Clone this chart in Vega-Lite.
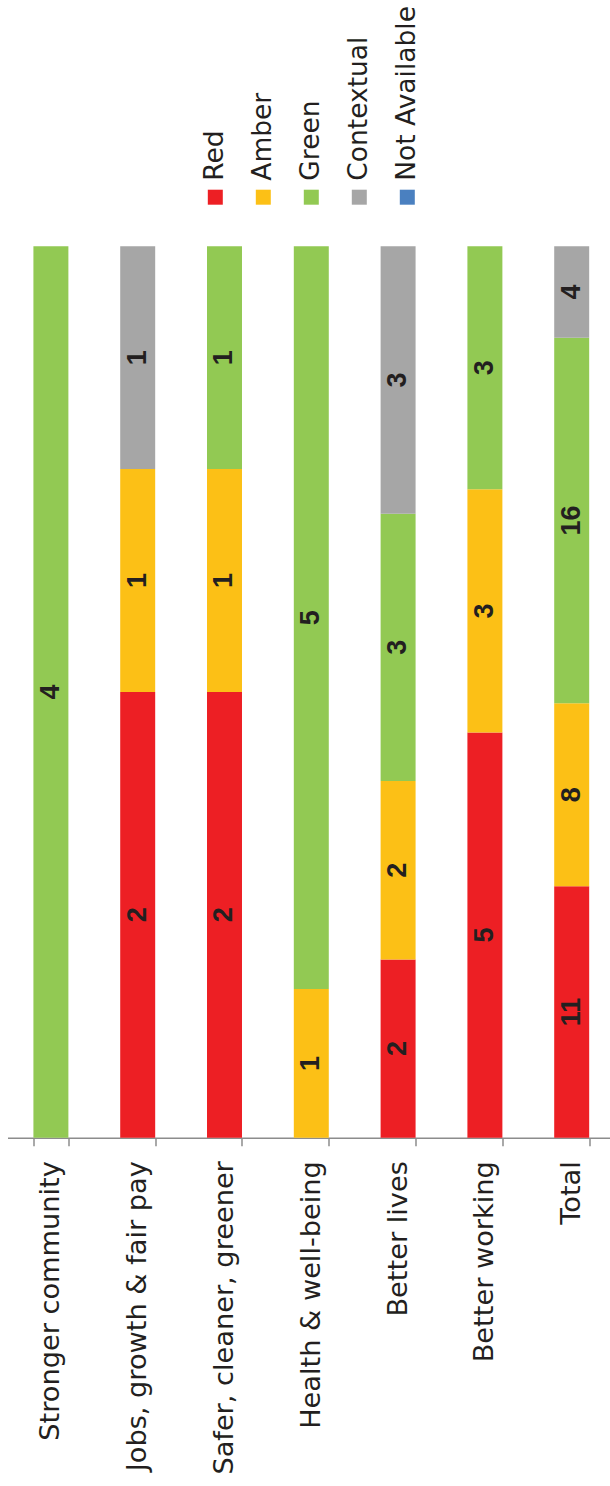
{
  "$schema": "https://vega.github.io/schema/vega-lite/v6.json",
  "background": "white",
  "padding": {"left": -6.7, "top": 5.7, "right": 0, "bottom": 0},
  "config": {"view": {"stroke": null}, "font": "DejaVu Sans"},
  "datasets": {
    "scores": [
      {"theme": "Stronger community", "status": "Green", "rank": 3, "count": 4},
      {"theme": "Jobs, growth & fair pay", "status": "Red", "rank": 1, "count": 2},
      {"theme": "Jobs, growth & fair pay", "status": "Amber", "rank": 2, "count": 1},
      {"theme": "Jobs, growth & fair pay", "status": "Contextual", "rank": 4, "count": 1},
      {"theme": "Safer, cleaner, greener", "status": "Red", "rank": 1, "count": 2},
      {"theme": "Safer, cleaner, greener", "status": "Amber", "rank": 2, "count": 1},
      {"theme": "Safer, cleaner, greener", "status": "Green", "rank": 3, "count": 1},
      {"theme": "Health & well-being", "status": "Amber", "rank": 2, "count": 1},
      {"theme": "Health & well-being", "status": "Green", "rank": 3, "count": 5},
      {"theme": "Better lives", "status": "Red", "rank": 1, "count": 2},
      {"theme": "Better lives", "status": "Amber", "rank": 2, "count": 2},
      {"theme": "Better lives", "status": "Green", "rank": 3, "count": 3},
      {"theme": "Better lives", "status": "Contextual", "rank": 4, "count": 3},
      {"theme": "Better working", "status": "Red", "rank": 1, "count": 5},
      {"theme": "Better working", "status": "Amber", "rank": 2, "count": 3},
      {"theme": "Better working", "status": "Green", "rank": 3, "count": 3},
      {"theme": "Total", "status": "Red", "rank": 1, "count": 11},
      {"theme": "Total", "status": "Amber", "rank": 2, "count": 8},
      {"theme": "Total", "status": "Green", "rank": 3, "count": 16},
      {"theme": "Total", "status": "Contextual", "rank": 4, "count": 4}
    ],
    "statuses": [
      {"status": "Red"},
      {"status": "Amber"},
      {"status": "Green"},
      {"status": "Contextual"},
      {"status": "Not Available"}
    ]
  },
  "spacing": 41.5,
  "center": true,
  "bounds": "flush",
  "resolve": {"scale": {"color": "shared"}},
  "vconcat": [
    {
      "width": 240,
      "height": 15,
      "data": {"name": "statuses"},
      "encoding": {
        "x": {
          "field": "status",
          "type": "nominal",
          "sort": null,
          "axis": null,
          "scale": {"padding": 0.5}
        },
        "color": {
          "field": "status",
          "type": "nominal",
          "legend": null,
          "scale": {
            "domain": ["Red", "Amber", "Green", "Contextual", "Not Available"],
            "range": ["#ed1f24", "#fcc016", "#92c953", "#a6a6a6", "#4a80c0"]
          }
        }
      },
      "layer": [
        {"mark": {"type": "point", "shape": "square", "size": 225, "filled": true, "opacity": 1, "strokeWidth": 0}},
        {
          "mark": {"type": "text", "angle": 270, "align": "left", "baseline": "middle", "dx": 16.5, "fontSize": 26.5, "font": "DejaVu Sans"},
          "encoding": {"text": {"field": "status"}, "color": {"value": "#231f20"}}
        }
      ]
    },
    {
      "width": 607.6,
      "height": 891.5,
      "data": {"name": "scores"},
      "title": {
        "text": "Page 135",
        "orient": "bottom",
        "anchor": "middle",
        "font": "Liberation Sans",
        "fontSize": 37,
        "fontWeight": "normal",
        "color": "#000000",
        "dx": 178.5,
        "offset": 9
      },
      "encoding": {
        "x": {
          "field": "theme",
          "type": "nominal",
          "sort": null,
          "title": null,
          "scale": {"paddingInner": 0.597, "paddingOuter": 0.2985},
          "axis": {
            "labelAngle": 270,
            "labelFont": "DejaVu Sans",
            "labelFontSize": 27.2,
            "labelColor": "#231f20",
            "labelLimit": 500,
            "labelPadding": 15,
            "tickBand": "extent",
            "tickSize": 8,
            "tickWidth": 1.5,
            "tickColor": "#8c8c8c",
            "domainColor": "#8c8c8c",
            "domainWidth": 1.5
          }
        },
        "y": {"field": "count", "type": "quantitative", "stack": "normalize", "axis": null},
        "order": {"field": "rank", "type": "quantitative", "sort": "ascending"},
        "detail": {"field": "status"},
        "color": {
          "field": "status",
          "type": "nominal",
          "legend": null,
          "scale": {
            "domain": ["Red", "Amber", "Green", "Contextual", "Not Available"],
            "range": ["#ed1f24", "#fcc016", "#92c953", "#a6a6a6", "#4a80c0"]
          }
        }
      },
      "layer": [
        {"mark": {"type": "bar"}},
        {
          "mark": {"type": "text", "angle": 270, "align": "center", "baseline": "middle", "font": "Liberation Sans", "fontWeight": "bold", "fontSize": 27},
          "encoding": {
            "y": {"field": "count", "type": "quantitative", "stack": "normalize", "bandPosition": 0.5, "axis": null},
            "text": {"field": "count", "type": "quantitative"},
            "color": {"value": "#231f20"}
          }
        }
      ]
    }
  ]
}
